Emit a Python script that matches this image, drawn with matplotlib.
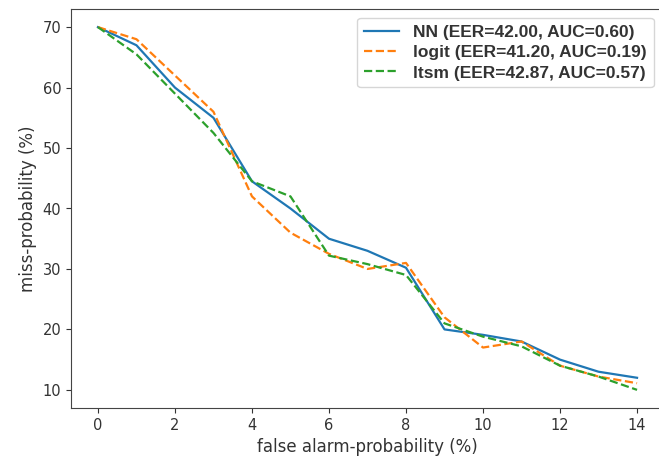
import matplotlib
matplotlib.use("Agg")
import matplotlib.pyplot as plt

x = list(range(15))
nn = [70, 67, 60, 55, 44.5, 40, 35, 33, 30.2, 20, 19.1, 18, 15, 13, 12]
logit = [70, 68, 62, 56, 42, 36, 32.5, 30, 31, 22, 17, 18, 14, 12.2, 11.1]
ltsm = [70, 65.5, 59, 52.5, 44.5, 42, 32.2, 30.8, 29, 21, 18.8, 17.2, 14, 12.2, 10]

labels = ["NN (EER=42.00, AUC=0.60)", "logit (EER=41.20, AUC=0.19)", "ltsm (EER=42.87, AUC=0.57)"]

fig = plt.figure(figsize=(6.59, 4.61), dpi=100)
ax = fig.add_axes([71/659, 1 - 408/461, 593/659, 399/461])
ax.plot(x, nn, color="#1f77b4", lw=1.6, label=labels[0])
ax.plot(x, logit, color="#ff7f0e", lw=1.6, ls="--", label=labels[1])
ax.plot(x, ltsm, color="#2ca02c", lw=1.6, ls="--", label=labels[2])
ax.set_xlim(-0.7, 14.7)
ax.set_ylim(7, 73)
ax.set_xticks(range(0, 15, 2))
ax.set_yticks(range(10, 71, 10))
ax.tick_params(labelsize=10.5, colors="#333333")
for s in ax.spines.values():
    s.set_color("#444444")
ax.set_xlabel("false alarm-probability (%)", fontsize=12, color="#333333")
ax.set_ylabel("miss-probability (%)", fontsize=12, color="#333333")
leg = ax.legend(loc="upper right", bbox_to_anchor=(0.997, 1.0), labelspacing=0.3,
                prop={"family": "Liberation Sans", "weight": "bold", "size": 12.5})
for t in leg.get_texts():
    t.set_color("#333333")
fig.savefig("out.png", dpi=100)
